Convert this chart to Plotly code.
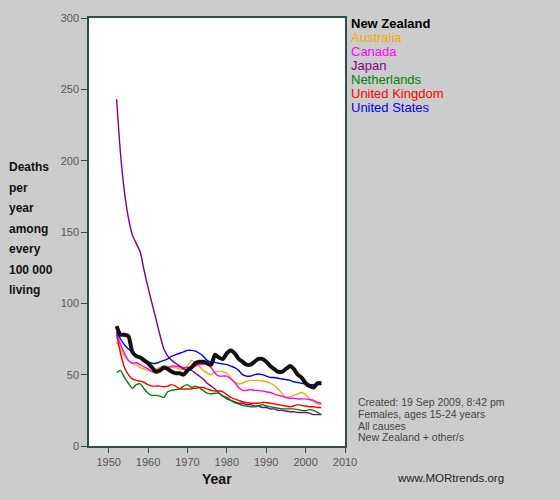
import plotly.graph_objects as go

years = list(range(1952, 2005))

new_zealand = [84, 78, 78, 77, 66, 63, 62, 60, 58, 55, 52, 53, 55, 54, 52, 51, 51, 50, 53, 55,
               58, 59, 59, 58, 57, 64, 62, 61, 65, 67, 65, 61, 59, 57, 57, 59, 61, 61, 59, 56,
               54, 52, 52, 54, 56, 54, 50, 48, 44, 42, 41, 44, 44]
australia = [73, 68, 63, 60, 58, 57, 55, 54, 53, 52.5, 54, 55, 56, 56, 55, 55, 54, 54, 56, 60,
             58, 56, 53, 51, 50, 52, 52.5, 52, 51, 48, 45, 43.5, 44, 45.5, 46, 46, 46, 45.5, 45, 44,
             42.5, 40, 37, 34, 34.5, 35.5, 36.5, 37.5, 36, 33, 31, 29.5, 29]
canada = [79, 71, 65, 60, 58, 58.5, 57, 55.5, 54, 52, 52, 53, 54, 55, 56, 56, 55.5, 55, 55, 55,
          56, 57, 57.5, 57, 55, 51, 49, 49, 49, 47, 44.5, 41, 39, 39, 39.5, 39, 39, 38.5, 38, 37.5,
          36.5, 35.5, 35, 34, 33.5, 33.5, 33, 33, 33, 32.5, 32, 30.5, 30]
japan = [243, 205, 178, 160, 148, 142, 136, 123, 111, 100, 89, 78, 68, 63, 60, 58, 56, 54, 53, 53,
         51, 49, 47, 44, 42, 40, 37, 35, 33, 32, 31, 30, 30, 29, 29, 28, 28, 27, 27, 26,
         26, 25, 25, 24.5, 24, 24, 23.5, 23.5, 23.5, 23, 22, 22, 22]
netherlands = [51.5, 53, 48, 44, 40.5, 43, 43.5, 40, 37, 35.5, 35.5, 35, 34, 38, 39, 39.5, 40, 42, 43, 41,
               42, 41, 39, 37, 36.5, 37, 37, 35, 34, 32, 30.5, 29.5, 28.5, 28, 27.5, 27.5, 28, 29, 28, 27.5,
               27, 26.5, 26, 26, 26, 26, 25.5, 25, 24.8, 25.5, 25, 23.5, 22]
united_kingdom = [78, 65, 55, 50, 47, 46, 45.5, 44.5, 43, 42, 42, 42, 41.5, 42, 43, 42, 40, 40, 40, 40,
                  40.5, 41, 41, 40, 39, 38.5, 38.5, 38, 36, 34, 33, 32, 31, 30.5, 30, 30, 30, 30.5, 30.5, 30,
                  29.5, 29, 28.5, 28, 27.5, 28, 29, 28.5, 28, 27.5, 27.5, 27, 27]
united_states = [80, 75, 71, 68, 66, 64, 62, 61, 59, 58, 58, 59, 60, 61, 63, 64, 65, 66, 67, 67,
                 66.5, 65, 63, 60, 59, 58.5, 58, 57.5, 57, 56, 55, 53, 50, 49, 49, 50, 50.5, 50, 49, 48,
                 48, 47.5, 47, 46.5, 46, 45, 44.5, 44, 43.5, 43, 43, 43, 43]

x_ticks = [1950, 1960, 1970, 1980, 1990, 2000, 2010]
y_ticks = [0, 50, 100, 150, 200, 250, 300]

others = [
    ("Australia", australia, "#FFA500"),
    ("Canada", canada, "#FF00FF"),
    ("Japan", japan, "#800080"),
    ("Netherlands", netherlands, "#008000"),
    ("United Kingdom", united_kingdom, "#FF0000"),
    ("United States", united_states, "#0000FF"),
]

fig = go.Figure()
for name, vals, col in others:
    fig.add_trace(go.Scatter(x=years, y=vals, mode="lines", name=name,
                             line=dict(color=col, width=1.4, shape="spline", smoothing=0.6)))
fig.add_trace(go.Scatter(x=years, y=new_zealand, mode="lines", name="New Zealand",
                         line=dict(color="#111111", width=4, shape="spline", smoothing=0.6)))

fig.update_layout(
    width=560, height=500,
    paper_bgcolor="#CCCCCC", plot_bgcolor="#FFFFFF",
    margin=dict(l=89, r=215, t=14, b=54),
    showlegend=False,
    font=dict(family="Liberation Sans, Arial, sans-serif", size=11, color="#555555"),
)
fig.update_xaxes(range=[1945, 2010], tickvals=x_ticks, ticks="outside", ticklen=5,
                 tickcolor="#2F4F4F", showgrid=False, zeroline=False,
                 showline=True, linecolor="#2F4F4F", linewidth=1.5, mirror=True,
                 tickfont=dict(size=11, color="#555555"))
fig.update_yaxes(range=[0, 300], tickvals=y_ticks, ticks="outside", ticklen=6,
                 tickcolor="#2F4F4F", showgrid=False, zeroline=False,
                 showline=True, linecolor="#2F4F4F", linewidth=1.5, mirror=True,
                 tickfont=dict(size=11, color="#555555"))

ann = []
# x-axis title
ann.append(dict(text="<b>Year</b>", x=0.5, xref="paper", y=479, yref="paper",
                showarrow=False, font=dict(size=14, color="#111111")))
# y-axis title lines
ylab = ["Deaths", "per", "year", "among", "every", "100 000", "living"]
for i, t in enumerate(ylab):
    ann.append(dict(text="<b>" + t + "</b>", x=7, y=164.5 + i * 20.7, showarrow=False,
                    font=dict(size=12, color="#111111"), xanchor="left"))
# legend lines
leg = [("<b>New Zealand</b>", "#000000"), ("Australia", "#FFA500"), ("Canada", "#FF00FF"),
       ("Japan", "#800080"), ("Netherlands", "#008000"), ("United Kingdom", "#FF0000"),
       ("United States", "#0000FF")]
for i, (t, c) in enumerate(leg):
    ann.append(dict(text=t, x=349, y=20 + i * 14.1, showarrow=False,
                    font=dict(size=13, color=c), xanchor="left"))
notes = ["Created: 19 Sep 2009, 8:42 pm", "Females, ages 15-24 years", "All causes",
         "New Zealand + other/s"]
for i, t in enumerate(notes):
    ann.append(dict(text=t, x=356, y=402 + i * 11.7, showarrow=False,
                    font=dict(size=10.5, color="#444444"), xanchor="left"))
ann.append(dict(text="www.MORtrends.org", x=450, y=478, showarrow=False,
                font=dict(size=11.5, color="#222222"), xanchor="center"))

# convert pixel positions to paper coordinates
W, H = 560, 500
l, r, t, b = 89, 215, 14, 54
pw, ph = W - l - r, H - t - b
final = []
for a in ann:
    if a.get("xref") == "paper" and a["x"] == 0.5:
        px = l + pw / 2
    else:
        px = a["x"]
    py = a["y"]
    a = dict(a)
    a["xref"] = "paper"
    a["yref"] = "paper"
    a["x"] = (px - l) / pw
    a["y"] = (H - b - py) / ph
    a["yanchor"] = "middle"
    final.append(a)
fig.update_layout(annotations=final)

fig.write_html("out.html", config={"displayModeBar": False},
               post_script="document.body.style.margin='0';document.body.style.background='#CCCCCC';document.body.style.overflow='hidden';")
